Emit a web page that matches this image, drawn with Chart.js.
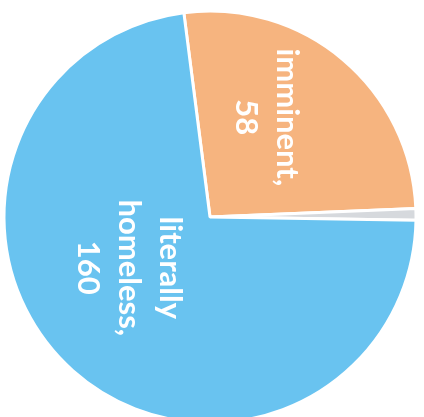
<!DOCTYPE html>
<html>
<head>
<meta charset="utf-8">
<script src="https://cdn.jsdelivr.net/npm/chart.js@4/dist/chart.umd.min.js"></script>
<style>
  html, body { margin: 0; padding: 0; background: #ffffff; overflow: hidden; }
  #wrap { position: relative; width: 424px; height: 440px; }
</style>
</head>
<body>
<div id="wrap"><canvas id="c"></canvas></div>
<script>
// Data
const categories = ["imminent", "other", "literally homeless"];
const values = [58, 2, 160];
const labelLines = [["imminent,", "58"], [], ["literally", "homeless,", "160"]];
const sliceColors = ["#F6B47F", "#D6D9DD", "#69C3F0"];
// label nudges relative to each slice's centre point (px)
const labelNudge = [[-10, -21], [0, 0], [-12, -26]];

const rotatedLabels = {
  id: "rotatedLabels",
  afterDatasetsDraw(chart) {
    const ctx = chart.ctx;
    const meta = chart.getDatasetMeta(0);
    ctx.save();
    ctx.fillStyle = "#ffffff";
    ctx.font = "bold 31px Lato, 'Open Sans', sans-serif";
    ctx.textAlign = "center";
    ctx.textBaseline = "middle";
    const lh = 41;
    meta.data.forEach((arc, i) => {
      const lines = labelLines[i];
      if (!lines.length) return;
      const p = arc.tooltipPosition();
      const x = p.x + labelNudge[i][0];
      const y = p.y + labelNudge[i][1];
      ctx.save();
      ctx.translate(x, y);
      ctx.rotate(Math.PI / 2);
      const off = (lines.length - 1) / 2;
      lines.forEach((t, k) => ctx.fillText(t, 0, (k - off) * lh));
      ctx.restore();
    });
    ctx.restore();
  }
};

new Chart(document.getElementById("c"), {
  type: "pie",
  data: {
    labels: categories,
    datasets: [{
      data: values,
      backgroundColor: sliceColors,
      borderColor: "#ffffff",
      borderWidth: 3,
      hoverOffset: 0,
      radius: 206,
      clip: false
    }]
  },
  options: {
    responsive: true,
    maintainAspectRatio: false,
    animation: false,
    events: [],
    rotation: -7.3,
    layout: { padding: { left: 0, right: 4, top: 0, bottom: 6 } },
    plugins: { legend: { display: false }, tooltip: { enabled: false } }
  },
  plugins: [rotatedLabels]
});
</script>
</body>
</html>
